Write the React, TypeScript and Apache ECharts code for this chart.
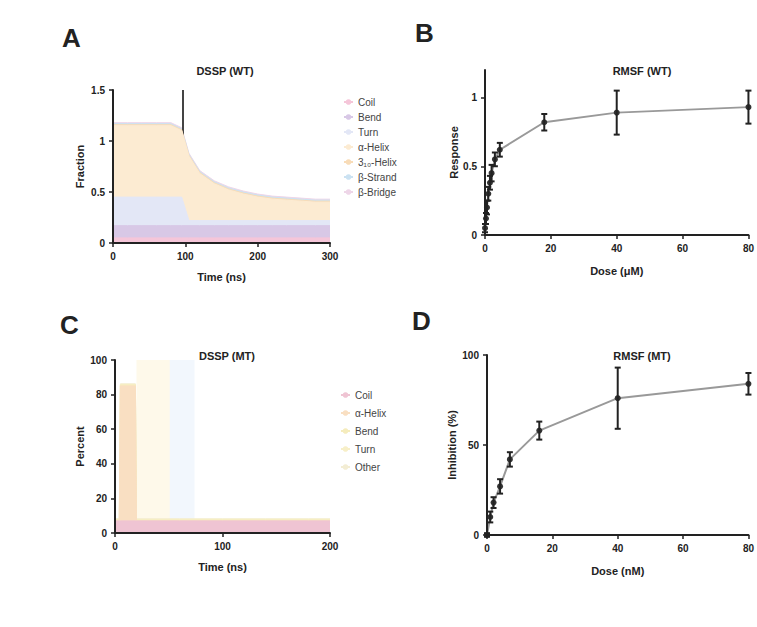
import React, { useEffect, useRef } from "react";
import * as echarts from "echarts";

// ---------- Panel A: stacked composition over time ----------
const timeA = [0, 20, 40, 60, 80, 95, 105, 120, 140, 160, 180, 200, 220, 240, 260, 280, 300];
const coilA = [0.05, 0.05, 0.05, 0.05, 0.05, 0.05, 0.05, 0.05, 0.05, 0.05, 0.05, 0.05, 0.05, 0.05, 0.05, 0.05, 0.05];
const bendA = [0.12, 0.12, 0.12, 0.12, 0.12, 0.12, 0.12, 0.12, 0.12, 0.12, 0.12, 0.12, 0.12, 0.12, 0.12, 0.12, 0.12];
const turnA = [0.28, 0.28, 0.28, 0.28, 0.28, 0.28, 0.05, 0.05, 0.05, 0.05, 0.05, 0.05, 0.05, 0.05, 0.05, 0.05, 0.05];
const helixA = [0.7, 0.7, 0.7, 0.7, 0.7, 0.65, 0.63, 0.46, 0.36, 0.3, 0.26, 0.23, 0.21, 0.2, 0.19, 0.18, 0.18];
const helix3A = [0.01, 0.01, 0.01, 0.01, 0.01, 0.01, 0.01, 0.01, 0.01, 0.01, 0.01, 0.01, 0.01, 0.01, 0.01, 0.01, 0.01];
const strandA = [0.01, 0.01, 0.01, 0.01, 0.01, 0.01, 0.01, 0.01, 0.01, 0.01, 0.01, 0.01, 0.01, 0.01, 0.01, 0.01, 0.01];
const bridgeA = [0.01, 0.01, 0.01, 0.01, 0.01, 0.01, 0.01, 0.01, 0.01, 0.01, 0.01, 0.01, 0.01, 0.01, 0.01, 0.01, 0.01];
const markTimeA = 97;

// ---------- Panel C: stacked composition over time ----------
const timeC = [0, 4, 5, 19, 20, 40, 60, 80, 100, 120, 140, 160, 180, 200];
const coilC = [7, 7, 7, 7, 7, 7, 7, 7, 7, 7, 7, 7, 7, 7];
const helixC = [0, 0, 78, 78, 0, 0, 0, 0, 0, 0, 0, 0, 0, 0];
const bendC = [0.5, 0.5, 0.5, 0.5, 0.5, 0.5, 0.5, 0.5, 0.5, 0.5, 0.5, 0.5, 0.5, 0.5];
const turnC = [0.5, 0.5, 0.5, 0.5, 0.5, 0.5, 0.5, 0.5, 0.5, 0.5, 0.5, 0.5, 0.5, 0.5];
const otherC = [0.2, 0.2, 0.2, 0.2, 0.2, 0.2, 0.2, 0.2, 0.2, 0.2, 0.2, 0.2, 0.2, 0.2];

// ---------- Panel B: dose response ----------
const doseB = [0, 0.3, 0.6, 1, 1.5, 2, 3, 4.5, 18, 40, 80];
const respB = [0.05, 0.12, 0.2, 0.3, 0.38, 0.45, 0.55, 0.62, 0.82, 0.89, 0.93];
const errB = [0.03, 0.04, 0.05, 0.05, 0.05, 0.06, 0.05, 0.05, 0.06, 0.16, 0.12];

// ---------- Panel D: dose response ----------
const doseD = [0, 1, 2, 4, 7, 16, 40, 80];
const respD = [0, 10, 18, 27, 42, 58, 76, 84];
const errD = [1, 3, 3, 4, 4, 5, 17, 6];

const titles = ["DSSP (WT)", "RMSF (WT)", "DSSP (MT)", "RMSF (MT)"];
const letters = ["A", "B", "C", "D"];
const namesA = ["Coil", "Bend", "Turn", "α-Helix", "3₁₀-Helix", "β-Strand", "β-Bridge"];
const colorsA = ["#f5c6d9", "#d8c8e6", "#e3e7f6", "#fcebd2", "#f8dcb8", "#cbe2f2", "#eed6e8"];
const namesC = ["Coil", "α-Helix", "Bend", "Turn", "Other"];
const colorsC = ["#efc4d3", "#f9dfc2", "#f5ecbd", "#f7efc8", "#f3edd4"];

// cumulative sums so each layer can be drawn down to the axis
const cumulate = (layers: number[][]) => {
  const out: number[][] = [];
  layers.forEach((l, k) => out.push(l.map((v, i) => v + (k ? out[k - 1][i] : 0))));
  return out;
};

export default function App() {
  const ref = useRef<HTMLDivElement>(null);
  useEffect(() => {
    if (!ref.current) return;
    const chart = echarts.init(ref.current, null, { renderer: "svg" });
    const font = "Liberation Sans";
    const axisLine = { lineStyle: { color: "#222", width: 2 } };
    const axisTick = { lineStyle: { color: "#222", width: 1.5 }, length: 4 };
    const axisLabel = { color: "#222", fontSize: 10, fontWeight: "bold" as const, fontFamily: font };
    const nameStyle = { color: "#222", fontSize: 11, fontWeight: "bold" as const, fontFamily: font };

    const errSeries = (xi: number, xs: number[], ys: number[], es: number[]) => ({
      type: "custom",
      xAxisIndex: xi,
      yAxisIndex: xi,
      data: xs.map((x, i) => [x, ys[i] - es[i], ys[i] + es[i]]),
      renderItem: (params: any, api: any) => {
        const lo = api.coord([api.value(0), api.value(1)]);
        const hi = api.coord([api.value(0), api.value(2)]);
        const s = { stroke: "#222", lineWidth: 2 };
        return {
          type: "group",
          children: [
            { type: "line", shape: { x1: lo[0], y1: lo[1], x2: hi[0], y2: hi[1] }, style: s },
            { type: "line", shape: { x1: lo[0] - 3, y1: lo[1], x2: lo[0] + 3, y2: lo[1] }, style: s },
            { type: "line", shape: { x1: hi[0] - 3, y1: hi[1], x2: hi[0] + 3, y2: hi[1] }, style: s },
          ],
        };
      },
      z: 5,
    });

    const layerSeries = (xi: number, xs: number[], layers: number[][], names: string[], colors: string[], z0: number) => {
      const cum = cumulate(layers);
      return cum.map((ys, k) => ({
        name: names[k],
        type: "line",
        xAxisIndex: xi,
        yAxisIndex: xi,
        data: xs.map((x, i) => [x, ys[i]]),
        symbol: "none",
        lineStyle: { width: 1, color: colors[k] },
        itemStyle: { color: colors[k] },
        areaStyle: { color: colors[k], opacity: 1, origin: "start" },
        z: z0 + (layers.length - k),
      }));
    };

    const seriesA = layerSeries(0, timeA, [coilA, bendA, turnA, helixA, helix3A, strandA, bridgeA], namesA, colorsA, 2);
    (seriesA[3] as any).markLine = {
      symbol: "none", silent: true, label: { show: false },
      lineStyle: { color: "#444", width: 2, type: "solid" },
      data: [[{ coord: [markTimeA, 0.9] }, { coord: [markTimeA, 1.5] }]],
    };
    const namesC2 = namesC.map((n) => n + " ");
    const seriesC = layerSeries(2, timeC, [coilC, helixC, bendC, turnC, otherC], namesC2, colorsC, 2);
    (seriesC[4] as any).markArea = {
      silent: true,
      data: [
        [{ coord: [20, 0], itemStyle: { color: "rgba(253,246,225,0.7)" } }, { coord: [51, 100] }],
        [{ coord: [51, 0], itemStyle: { color: "rgba(236,243,252,0.7)" } }, { coord: [74, 100] }],
      ],
    };

    chart.setOption({
      animation: false,
      backgroundColor: "#fff",
      textStyle: { fontFamily: font },
      title: [
        { text: titles[0], left: 220, top: 60, textAlign: "center" },
        { text: titles[1], left: 637, top: 60, textAlign: "center" },
        { text: titles[2], left: 222, top: 345, textAlign: "center" },
        { text: titles[3], left: 637, top: 345, textAlign: "center" },
      ].map((t) => ({ ...t, textStyle: { fontSize: 11, fontWeight: "bold", color: "#222", fontFamily: font } })),
      graphic: [
        { type: "text", left: 62, top: 25, style: { text: letters[0], fontSize: 26, fontWeight: "bold", fill: "#222", fontFamily: font } },
        { type: "text", left: 415, top: 20, style: { text: letters[1], fontSize: 26, fontWeight: "bold", fill: "#222", fontFamily: font } },
        { type: "text", left: 60, top: 312, style: { text: letters[2], fontSize: 26, fontWeight: "bold", fill: "#222", fontFamily: font } },
        { type: "text", left: 412, top: 308, style: { text: letters[3], fontSize: 26, fontWeight: "bold", fill: "#222", fontFamily: font } },
      ],
      legend: [
        {
          data: namesA, orient: "vertical", left: 338, top: 92, itemWidth: 9, itemHeight: 7, itemGap: 5,
          textStyle: { fontSize: 10, color: "#444", fontFamily: font },
        },
        {
          data: namesC2, orient: "vertical", left: 335, top: 385, itemWidth: 9, itemHeight: 7, itemGap: 8,
          textStyle: { fontSize: 10, color: "#444", fontFamily: font },
        },
      ],
      grid: [
        { left: 113, top: 90, width: 217, height: 153 },
        { left: 485, top: 70, width: 265, height: 165 },
        { left: 115, top: 360, width: 215, height: 173 },
        { left: 487, top: 355, width: 263, height: 180 },
      ],
      xAxis: [
        { gridIndex: 0, type: "value", min: 0, max: 300, interval: 100, name: "Time (ns)", nameLocation: "middle", nameGap: 28 },
        { gridIndex: 1, type: "value", min: 0, max: 80, interval: 20, name: "Dose (μM)", nameLocation: "middle", nameGap: 30 },
        { gridIndex: 2, type: "value", min: 0, max: 200, interval: 100, name: "Time (ns)", nameLocation: "middle", nameGap: 28 },
        { gridIndex: 3, type: "value", min: 0, max: 80, interval: 20, name: "Dose (nM)", nameLocation: "middle", nameGap: 30 },
      ].map((a) => ({ ...a, axisLine, axisTick, axisLabel, nameTextStyle: nameStyle, splitLine: { show: false }, z: 10 })),
      yAxis: [
        { gridIndex: 0, type: "value", min: 0, max: 1.5, interval: 0.5, name: "Fraction", nameGap: 28 },
        { gridIndex: 1, type: "value", min: 0, max: 1.2, interval: 0.5, name: "Response", nameGap: 26, axisLabel: { ...axisLabel, showMaxLabel: false } },
        { gridIndex: 2, type: "value", min: 0, max: 100, interval: 20, name: "Percent", nameGap: 30 },
        { gridIndex: 3, type: "value", min: 0, max: 100, interval: 50, name: "Inhibition (%)", nameGap: 30 },
      ].map((a) => ({
        axisLabel, ...a, nameLocation: "middle", axisLine, axisTick, nameTextStyle: nameStyle, splitLine: { show: false }, z: 10,
      })),
      series: [
        ...seriesA,
        ...seriesC,
        {
          type: "line", xAxisIndex: 1, yAxisIndex: 1, data: doseB.map((x, i) => [x, respB[i]]),
          symbol: "circle", symbolSize: 6, lineStyle: { color: "#999", width: 2 }, itemStyle: { color: "#333" },
        },
        errSeries(1, doseB, respB, errB),
        {
          type: "line", xAxisIndex: 3, yAxisIndex: 3, data: doseD.map((x, i) => [x, respD[i]]),
          symbol: "circle", symbolSize: 6, lineStyle: { color: "#999", width: 2 }, itemStyle: { color: "#333" },
        },
        errSeries(3, doseD, respD, errD),
      ],
    });
    return () => chart.dispose();
  }, []);
  return <div ref={ref} style={{ position: "fixed", left: 0, top: 0, width: 757, height: 627 }} />;
}
